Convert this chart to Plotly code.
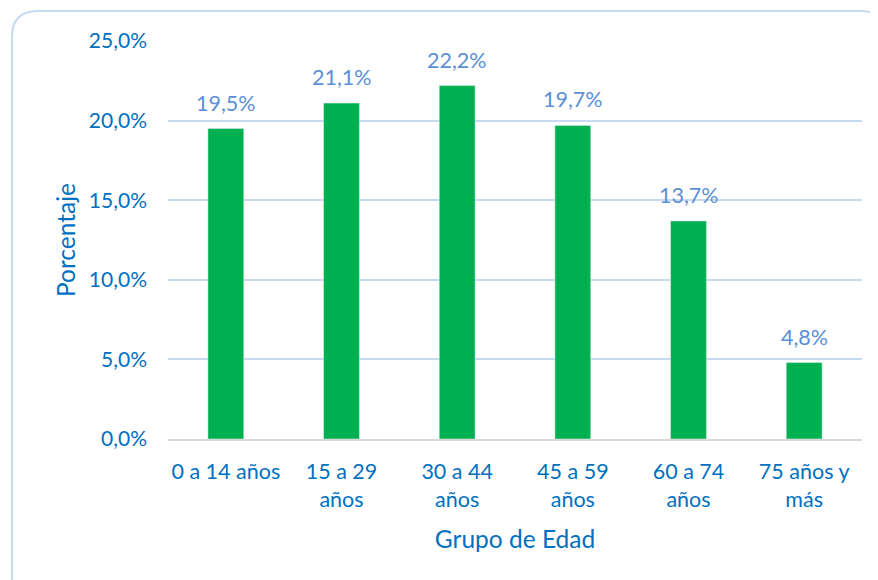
import plotly.graph_objects as go

categories = ["0 a 14 años", "15 a 29<br>años", "30 a 44<br>años", "45 a 59<br>años", "60 a 74<br>años", "75 años y<br>más"]
values = [19.5, 21.1, 22.2, 19.7, 13.7, 4.8]
labels = ["19,5%", "21,1%", "22,2%", "19,7%", "13,7%", "4,8%"]
y_ticks = [0, 5, 10, 15, 20, 25]
y_tick_text = ["0,0%", "5,0%", "10,0%", "15,0%", "20,0%", "25,0%"]

W, H = 878, 580
OFF = 8  # page body margin
L, T = 168 - OFF, 41 - OFF
R, B = W - (862 - OFF), H - (439 - OFF)
PW, PH = W - L - R, H - T - B

def px(x):
    return (x - OFF - L) / PW

def py(y):
    return (H - B - (y - OFF)) / PH

FONT = "Lato"
BLUE = "#0070c0"

fig = go.Figure(go.Bar(
    x=categories, y=values, marker_color="#00b050", width=0.31,
    hoverinfo="skip",
))

for c, v, t in zip(categories, values, labels):
    fig.add_annotation(x=c, y=v, text=t, showarrow=False, yanchor="bottom",
                       yshift=11, font=dict(family=FONT, size=21.5, color="#5b8fd6"))

r = 26
path = (f"M {px(12)},{py(600)} L {px(12)},{py(11 + r)} "
        f"Q {px(12)},{py(11)} {px(12 + r)},{py(11)} "
        f"L {px(886 - r)},{py(11)} Q {px(886)},{py(11)} {px(886)},{py(11 + r)} "
        f"L {px(886)},{py(600)}")
fig.add_shape(type="path", path=path, xref="paper", yref="paper",
              line=dict(color="#c6d9f1", width=2), layer="below")

fig.update_layout(
    width=W, height=H,
    margin=dict(l=L, r=R, t=T, b=B),
    paper_bgcolor="white", plot_bgcolor="white",
    showlegend=False,
    font=dict(family=FONT, color=BLUE),
    xaxis=dict(
        title=dict(text="Grupo de Edad", font=dict(size=24.5, color=BLUE), standoff=20),
        tickfont=dict(size=21.5, color=BLUE), automargin=False,
        showgrid=False, showline=True, linecolor="#d9d9d9", linewidth=2,
        ticks="", ticklabelstandoff=12,
    ),
    yaxis=dict(
        title=dict(text="Porcentaje", font=dict(size=24.5, color=BLUE), standoff=6),
        range=[0, 25], tickvals=y_ticks, ticktext=y_tick_text,
        tickfont=dict(size=21, color=BLUE), automargin=False,
        showgrid=True, gridcolor="#c6d9f1", gridwidth=1.5,
        zeroline=False, showline=False, ticks="", ticklabelstandoff=20,
    ),
)

fig.write_html("out.html")
